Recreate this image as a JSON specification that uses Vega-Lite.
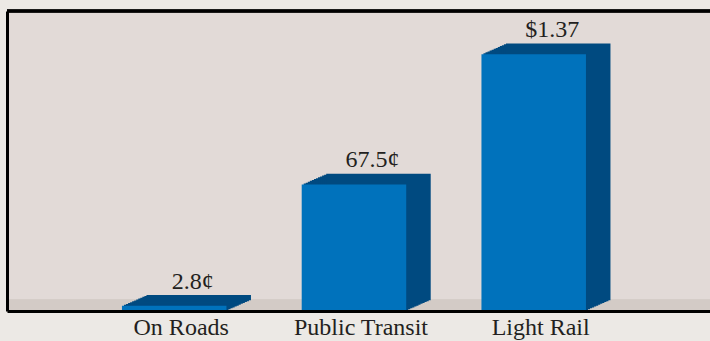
{
  "$schema": "https://vega.github.io/schema/vega-lite/v6.json",
  "width": 703,
  "height": 300,
  "autosize": {"type": "none"},
  "padding": {"left": 7, "top": 11, "right": 0, "bottom": 30},
  "background": "#ece9e5",
  "view": {"fill": "#e2dad7", "stroke": null},
  "data": {
    "values": [
      {"mode": "On Roads", "value": 2.8, "label": "2.8¢"},
      {"mode": "Public Transit", "value": 67.5, "label": "67.5¢"},
      {"mode": "Light Rail", "value": 137, "label": "$1.37"}
    ]
  },
  "layer": [
    {
      "mark": {"type": "rect", "color": "#d3cbc6"},
      "encoding": {
        "y": {"datum": 0, "type": "quantitative"},
        "y2": {"datum": 6.1}
      }
    },
    {
      "mark": {"type": "bar", "color": "#004a80", "xOffset": 2.04, "x2Offset": 2.04, "yOffset": -0.89, "y2Offset": -0.89},
      "encoding": {
        "x": {
          "field": "mode", "type": "nominal", "sort": null,
          "scale": {"paddingInner": 0.4186, "paddingOuter": 0.6648, "align": 0.481, "round": false},
          "axis": {"title": null, "domain": true, "domainColor": "#000000", "domainWidth": 3, "ticks": false, "tickSize": 0, "labelPadding": 23.5, "labelBaseline": "alphabetic", "labelFont": "Liberation Serif", "labelFontSize": 24, "labelColor": "#231f20", "labelAngle": 0, "labelOffset": 7, "labelLimit": 0, "grid": false, "zindex": 1}
        },
        "y": {
          "field": "value", "type": "quantitative",
          "scale": {"domain": [0, 160], "nice": false},
          "axis": {"title": null, "domain": true, "domainColor": "#000000", "domainWidth": 3, "ticks": false, "labels": false, "grid": false, "zindex": 1}
        }
      }
    },
    {"mark": {"type": "bar", "color": "#004a80", "xOffset": 4.08, "x2Offset": 4.08, "yOffset": -1.78, "y2Offset": -1.78},
     "encoding": {"x": {"field": "mode", "type": "nominal", "sort": null}, "y": {"field": "value", "type": "quantitative"}}},
    {"mark": {"type": "bar", "color": "#004a80", "xOffset": 6.13, "x2Offset": 6.13, "yOffset": -2.68, "y2Offset": -2.68},
     "encoding": {"x": {"field": "mode", "type": "nominal", "sort": null}, "y": {"field": "value", "type": "quantitative"}}},
    {"mark": {"type": "bar", "color": "#004a80", "xOffset": 8.17, "x2Offset": 8.17, "yOffset": -3.57, "y2Offset": -3.57},
     "encoding": {"x": {"field": "mode", "type": "nominal", "sort": null}, "y": {"field": "value", "type": "quantitative"}}},
    {"mark": {"type": "bar", "color": "#004a80", "xOffset": 10.21, "x2Offset": 10.21, "yOffset": -4.46, "y2Offset": -4.46},
     "encoding": {"x": {"field": "mode", "type": "nominal", "sort": null}, "y": {"field": "value", "type": "quantitative"}}},
    {"mark": {"type": "bar", "color": "#004a80", "xOffset": 12.25, "x2Offset": 12.25, "yOffset": -5.35, "y2Offset": -5.35},
     "encoding": {"x": {"field": "mode", "type": "nominal", "sort": null}, "y": {"field": "value", "type": "quantitative"}}},
    {"mark": {"type": "bar", "color": "#004a80", "xOffset": 14.29, "x2Offset": 14.29, "yOffset": -6.24, "y2Offset": -6.24},
     "encoding": {"x": {"field": "mode", "type": "nominal", "sort": null}, "y": {"field": "value", "type": "quantitative"}}},
    {"mark": {"type": "bar", "color": "#004a80", "xOffset": 16.33, "x2Offset": 16.33, "yOffset": -7.13, "y2Offset": -7.13},
     "encoding": {"x": {"field": "mode", "type": "nominal", "sort": null}, "y": {"field": "value", "type": "quantitative"}}},
    {"mark": {"type": "bar", "color": "#004a80", "xOffset": 18.38, "x2Offset": 18.38, "yOffset": -8.03, "y2Offset": -8.03},
     "encoding": {"x": {"field": "mode", "type": "nominal", "sort": null}, "y": {"field": "value", "type": "quantitative"}}},
    {"mark": {"type": "bar", "color": "#004a80", "xOffset": 20.42, "x2Offset": 20.42, "yOffset": -8.92, "y2Offset": -8.92},
     "encoding": {"x": {"field": "mode", "type": "nominal", "sort": null}, "y": {"field": "value", "type": "quantitative"}}},
    {"mark": {"type": "bar", "color": "#004a80", "xOffset": 22.46, "x2Offset": 22.46, "yOffset": -9.81, "y2Offset": -9.81},
     "encoding": {"x": {"field": "mode", "type": "nominal", "sort": null}, "y": {"field": "value", "type": "quantitative"}}},
    {"mark": {"type": "bar", "color": "#004a80", "xOffset": 24.5, "x2Offset": 24.5, "yOffset": -10.7, "y2Offset": -10.7},
     "encoding": {"x": {"field": "mode", "type": "nominal", "sort": null}, "y": {"field": "value", "type": "quantitative"}}},
    {"mark": {"type": "bar", "color": "#0072bc"},
     "encoding": {"x": {"field": "mode", "type": "nominal", "sort": null}, "y": {"field": "value", "type": "quantitative"}}},
    {
      "mark": {"type": "text", "font": "Liberation Serif", "fontSize": 24, "color": "#231f20", "baseline": "alphabetic", "align": "center", "dx": 18.5, "dy": -17},
      "encoding": {
        "x": {"field": "mode", "type": "nominal", "sort": null},
        "y": {"field": "value", "type": "quantitative"},
        "text": {"field": "label"}
      }
    },
    {
      "mark": {"type": "rule", "color": "#000000", "strokeWidth": 3},
      "encoding": {"y": {"datum": 160, "type": "quantitative"}}
    }
  ]
}
